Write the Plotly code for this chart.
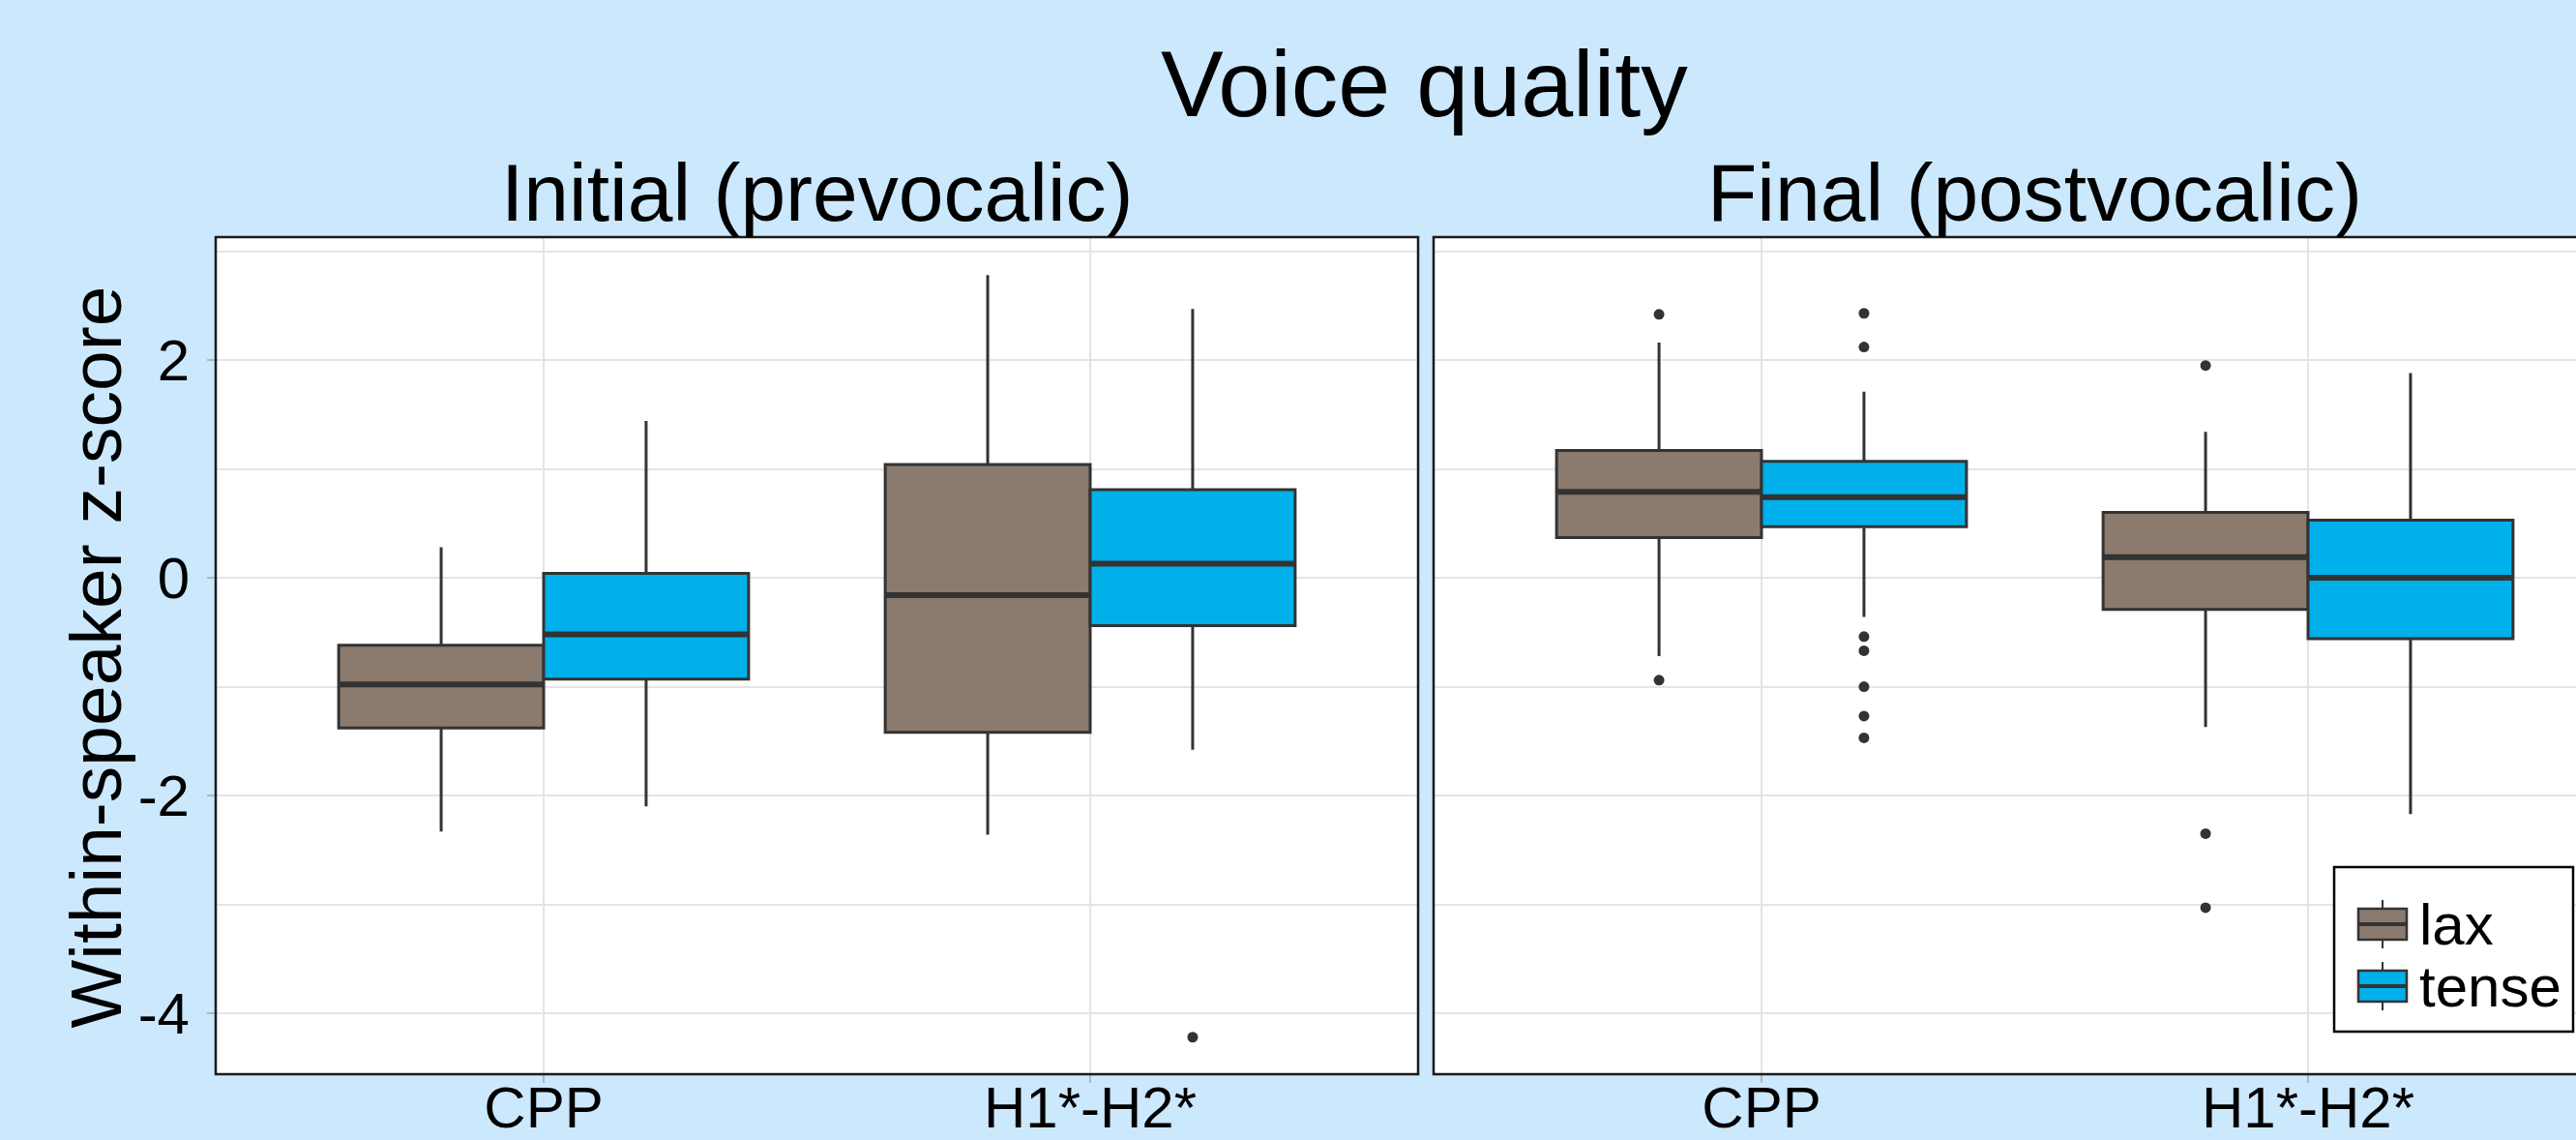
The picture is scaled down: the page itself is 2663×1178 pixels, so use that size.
import plotly.graph_objects as go

# ---------------------------------------------------------------------------
# Data: box-plot summaries (lower whisker, Q1, median, Q3, upper whisker)
# and outliers, per panel / phonation group, ordered like `measures`.
# ---------------------------------------------------------------------------
title_text = "Voice quality"
panels = ["Initial (prevocalic)", "Final (postvocalic)"]
measures = ["CPP", "H1*-H2*"]
groups = ["lax", "tense"]
y_axis_title = "Within-speaker z-score"
y_tick_vals = [-4, -2, 0, 2]
y_tick_text = ["-4", "-2", "0", "2"]
y_minor_vals = [-3, -1, 1, 3]

# Initial (prevocalic)
init_lax_lower = [-2.33, -2.36]
init_lax_q1 = [-1.38, -1.42]
init_lax_median = [-0.98, -0.16]
init_lax_q3 = [-0.62, 1.04]
init_lax_upper = [0.28, 2.78]
init_lax_outliers = [[], []]

init_tense_lower = [-2.10, -1.58]
init_tense_q1 = [-0.93, -0.44]
init_tense_median = [-0.52, 0.13]
init_tense_q3 = [0.04, 0.81]
init_tense_upper = [1.44, 2.47]
init_tense_outliers = [[], [-4.22]]

# Final (postvocalic)
final_lax_lower = [-0.72, -1.37]
final_lax_q1 = [0.37, -0.29]
final_lax_median = [0.79, 0.19]
final_lax_q3 = [1.17, 0.60]
final_lax_upper = [2.16, 1.34]
final_lax_outliers = [[2.42, -0.94], [1.95, -2.35, -3.03]]

final_tense_lower = [-0.36, -2.17]
final_tense_q1 = [0.47, -0.56]
final_tense_median = [0.74, 0.00]
final_tense_q3 = [1.07, 0.53]
final_tense_upper = [1.71, 1.88]
final_tense_outliers = [[2.43, 2.12, -0.54, -0.67, -1.00, -1.27, -1.47], []]

stats = {
    ("Initial (prevocalic)", "lax"): (init_lax_lower, init_lax_q1, init_lax_median,
                                      init_lax_q3, init_lax_upper, init_lax_outliers),
    ("Initial (prevocalic)", "tense"): (init_tense_lower, init_tense_q1, init_tense_median,
                                        init_tense_q3, init_tense_upper, init_tense_outliers),
    ("Final (postvocalic)", "lax"): (final_lax_lower, final_lax_q1, final_lax_median,
                                     final_lax_q3, final_lax_upper, final_lax_outliers),
    ("Final (postvocalic)", "tense"): (final_tense_lower, final_tense_q1, final_tense_median,
                                       final_tense_q3, final_tense_upper, final_tense_outliers),
}

# ---------------------------------------------------------------------------
# Styling / geometry
# ---------------------------------------------------------------------------
W, H = 2663, 1178
BG = "#CCE8FC"
FILL = {"lax": "#8B7A6E", "tense": "#00B0EA"}
EDGE = "#333333"
GRID = "#E4E4E4"
FONT = "Liberation Sans, Arial, sans-serif"

PANEL_TOP, PANEL_BOTTOM = 245, 1110
LEFT_X0, LEFT_X1 = 223, 1466
RIGHT_X0 = 1482
X_MIN, X_MAX = 0.4, 2.6
UNIT_PX = (LEFT_X1 - LEFT_X0) / (X_MAX - X_MIN)
RIGHT_X_END = X_MIN + (W - RIGHT_X0) / UNIT_PX  # right facet runs past the page edge
Y_RANGE = [-4.56, 3.13]

DODGE = 0.75
BOX_W = DODGE / len(groups)


def px_x(p):
    return p / W


def px_y(p):
    return 1 - p / H


fig = go.Figure()

for pi, panel in enumerate(panels):
    xa = "x" if pi == 0 else "x2"
    ya = "y" if pi == 0 else "y2"
    for gi, grp in enumerate(groups):
        lower, q1, med, q3, upper, outl = stats[(panel, grp)]
        offset = -DODGE / 2 + BOX_W * (gi + 0.5)
        xs = [mi + 1 + offset for mi in range(len(measures))]
        fig.add_trace(go.Box(
            x=xs, q1=q1, median=med, q3=q3, lowerfence=lower, upperfence=upper,
            width=BOX_W, whiskerwidth=0, fillcolor=FILL[grp],
            line=dict(color=EDGE, width=3), boxpoints=False,
            name=grp, showlegend=False, xaxis=xa, yaxis=ya, hoverinfo="skip",
        ))
        # thicker median bars
        mx, my = [], []
        for x, m in zip(xs, med):
            mx += [x - BOX_W / 2, x + BOX_W / 2, None]
            my += [m, m, None]
        fig.add_trace(go.Scatter(
            x=mx, y=my, mode="lines", line=dict(color=EDGE, width=6),
            showlegend=False, hoverinfo="skip", xaxis=xa, yaxis=ya,
        ))
        # outliers
        ox, oy = [], []
        for x, pts in zip(xs, outl):
            ox += [x] * len(pts)
            oy += pts
        if ox:
            fig.add_trace(go.Scatter(
                x=ox, y=oy, mode="markers",
                marker=dict(color=EDGE, size=11, line=dict(width=0)),
                showlegend=False, hoverinfo="skip", xaxis=xa, yaxis=ya,
            ))

common_x = dict(
    tickvals=list(range(1, len(measures) + 1)), ticktext=measures,
    showgrid=True, gridcolor=GRID, gridwidth=2, zeroline=False,
    ticks="outside", ticklen=8, tickwidth=2, tickcolor="#B5B5B5",
    tickfont=dict(family=FONT, size=60, color="black"),
    ticklabelstandoff=-26, showline=False, fixedrange=True, automargin=False,
)
common_y = dict(
    range=Y_RANGE, showgrid=True, gridcolor=GRID, gridwidth=2,
    zeroline=False, showline=False, automargin=False,
    minor=dict(tickvals=y_minor_vals, showgrid=True, gridcolor=GRID, gridwidth=2, ticks=""),
    domain=[px_y(PANEL_BOTTOM), px_y(PANEL_TOP)], fixedrange=True,
)

fig.update_layout(
    width=W, height=H, autosize=False,
    margin=dict(l=0, r=0, t=0, b=0, pad=0, autoexpand=False),
    paper_bgcolor=BG, plot_bgcolor="white",
    showlegend=False,
    xaxis=dict(domain=[px_x(LEFT_X0), px_x(LEFT_X1)], range=[X_MIN, X_MAX], **common_x),
    xaxis2=dict(domain=[px_x(RIGHT_X0), 1.0], range=[X_MIN, RIGHT_X_END], anchor="y2", **common_x),
    yaxis=dict(tickvals=y_tick_vals, ticktext=y_tick_text,
               ticks="outside", ticklen=8, tickwidth=2, tickcolor="#B5B5B5",
               tickfont=dict(family=FONT, size=60, color="black"),
               ticklabelstandoff=6, anchor="x", **common_y),
    yaxis2=dict(tickvals=y_tick_vals, showticklabels=False, ticks="", anchor="x2", **common_y),
)

shapes = []
# panel borders
shapes.append(dict(type="rect", xref="paper", yref="paper",
                   x0=px_x(LEFT_X0), x1=px_x(LEFT_X1), y0=px_y(PANEL_BOTTOM), y1=px_y(PANEL_TOP),
                   line=dict(color="#1A1A1A", width=2.5), fillcolor="rgba(0,0,0,0)", layer="above"))
shapes.append(dict(type="rect", xref="paper", yref="paper",
                   x0=px_x(RIGHT_X0), x1=px_x(W + 60), y0=px_y(PANEL_BOTTOM), y1=px_y(PANEL_TOP),
                   line=dict(color="#1A1A1A", width=2.5), fillcolor="rgba(0,0,0,0)", layer="above"))

annotations = []
annotations.append(dict(text=title_text, x=px_x(1472), y=px_y(87), xref="paper", yref="paper",
                        xanchor="center", yanchor="middle", showarrow=False,
                        font=dict(family=FONT, size=97, color="black")))
panel_centers = [(LEFT_X0 + LEFT_X1) / 2, RIGHT_X0 + (X_MAX - X_MIN) * UNIT_PX / 2]
for name, cx in zip(panels, panel_centers):
    annotations.append(dict(text=name, x=px_x(cx), y=px_y(199), xref="paper", yref="paper",
                            xanchor="center", yanchor="middle", showarrow=False,
                            font=dict(family=FONT, size=84, color="black")))
annotations.append(dict(text=y_axis_title, x=px_x(98), y=px_y((PANEL_TOP + PANEL_BOTTOM) / 2 + 2),
                        xref="paper", yref="paper", xanchor="center", yanchor="middle",
                        textangle=-90, showarrow=False,
                        font=dict(family=FONT, size=75, color="black")))

# legend (drawn as box-plot keys inside the right facet)
LEG_X0, LEG_X1, LEG_Y0, LEG_Y1 = 2413, 2660, 896, 1066
shapes.append(dict(type="rect", xref="paper", yref="paper",
                   x0=px_x(LEG_X0), x1=px_x(LEG_X1), y0=px_y(LEG_Y1), y1=px_y(LEG_Y0),
                   line=dict(color="black", width=2.5), fillcolor="white", layer="above"))
key_centers = [955, 1019]
for grp, cy in zip(groups, key_centers):
    kx0, kx1 = 2438, 2488
    kxm = (kx0 + kx1) / 2
    shapes.append(dict(type="line", xref="paper", yref="paper",
                       x0=px_x(kxm), x1=px_x(kxm), y0=px_y(cy - 25), y1=px_y(cy + 25),
                       line=dict(color=EDGE, width=2), layer="above"))
    shapes.append(dict(type="rect", xref="paper", yref="paper",
                       x0=px_x(kx0), x1=px_x(kx1), y0=px_y(cy + 16), y1=px_y(cy - 16),
                       line=dict(color=EDGE, width=2.5), fillcolor=FILL[grp], layer="above"))
    shapes.append(dict(type="line", xref="paper", yref="paper",
                       x0=px_x(kx0), x1=px_x(kx1), y0=px_y(cy), y1=px_y(cy),
                       line=dict(color=EDGE, width=4), layer="above"))
    annotations.append(dict(text=grp, x=px_x(2499), y=px_y(cy), xref="paper", yref="paper",
                            xanchor="left", yanchor="middle", showarrow=False,
                            font=dict(family=FONT, size=60, color="black")))

fig.update_layout(shapes=shapes, annotations=annotations)

fig.write_html("out.html")
